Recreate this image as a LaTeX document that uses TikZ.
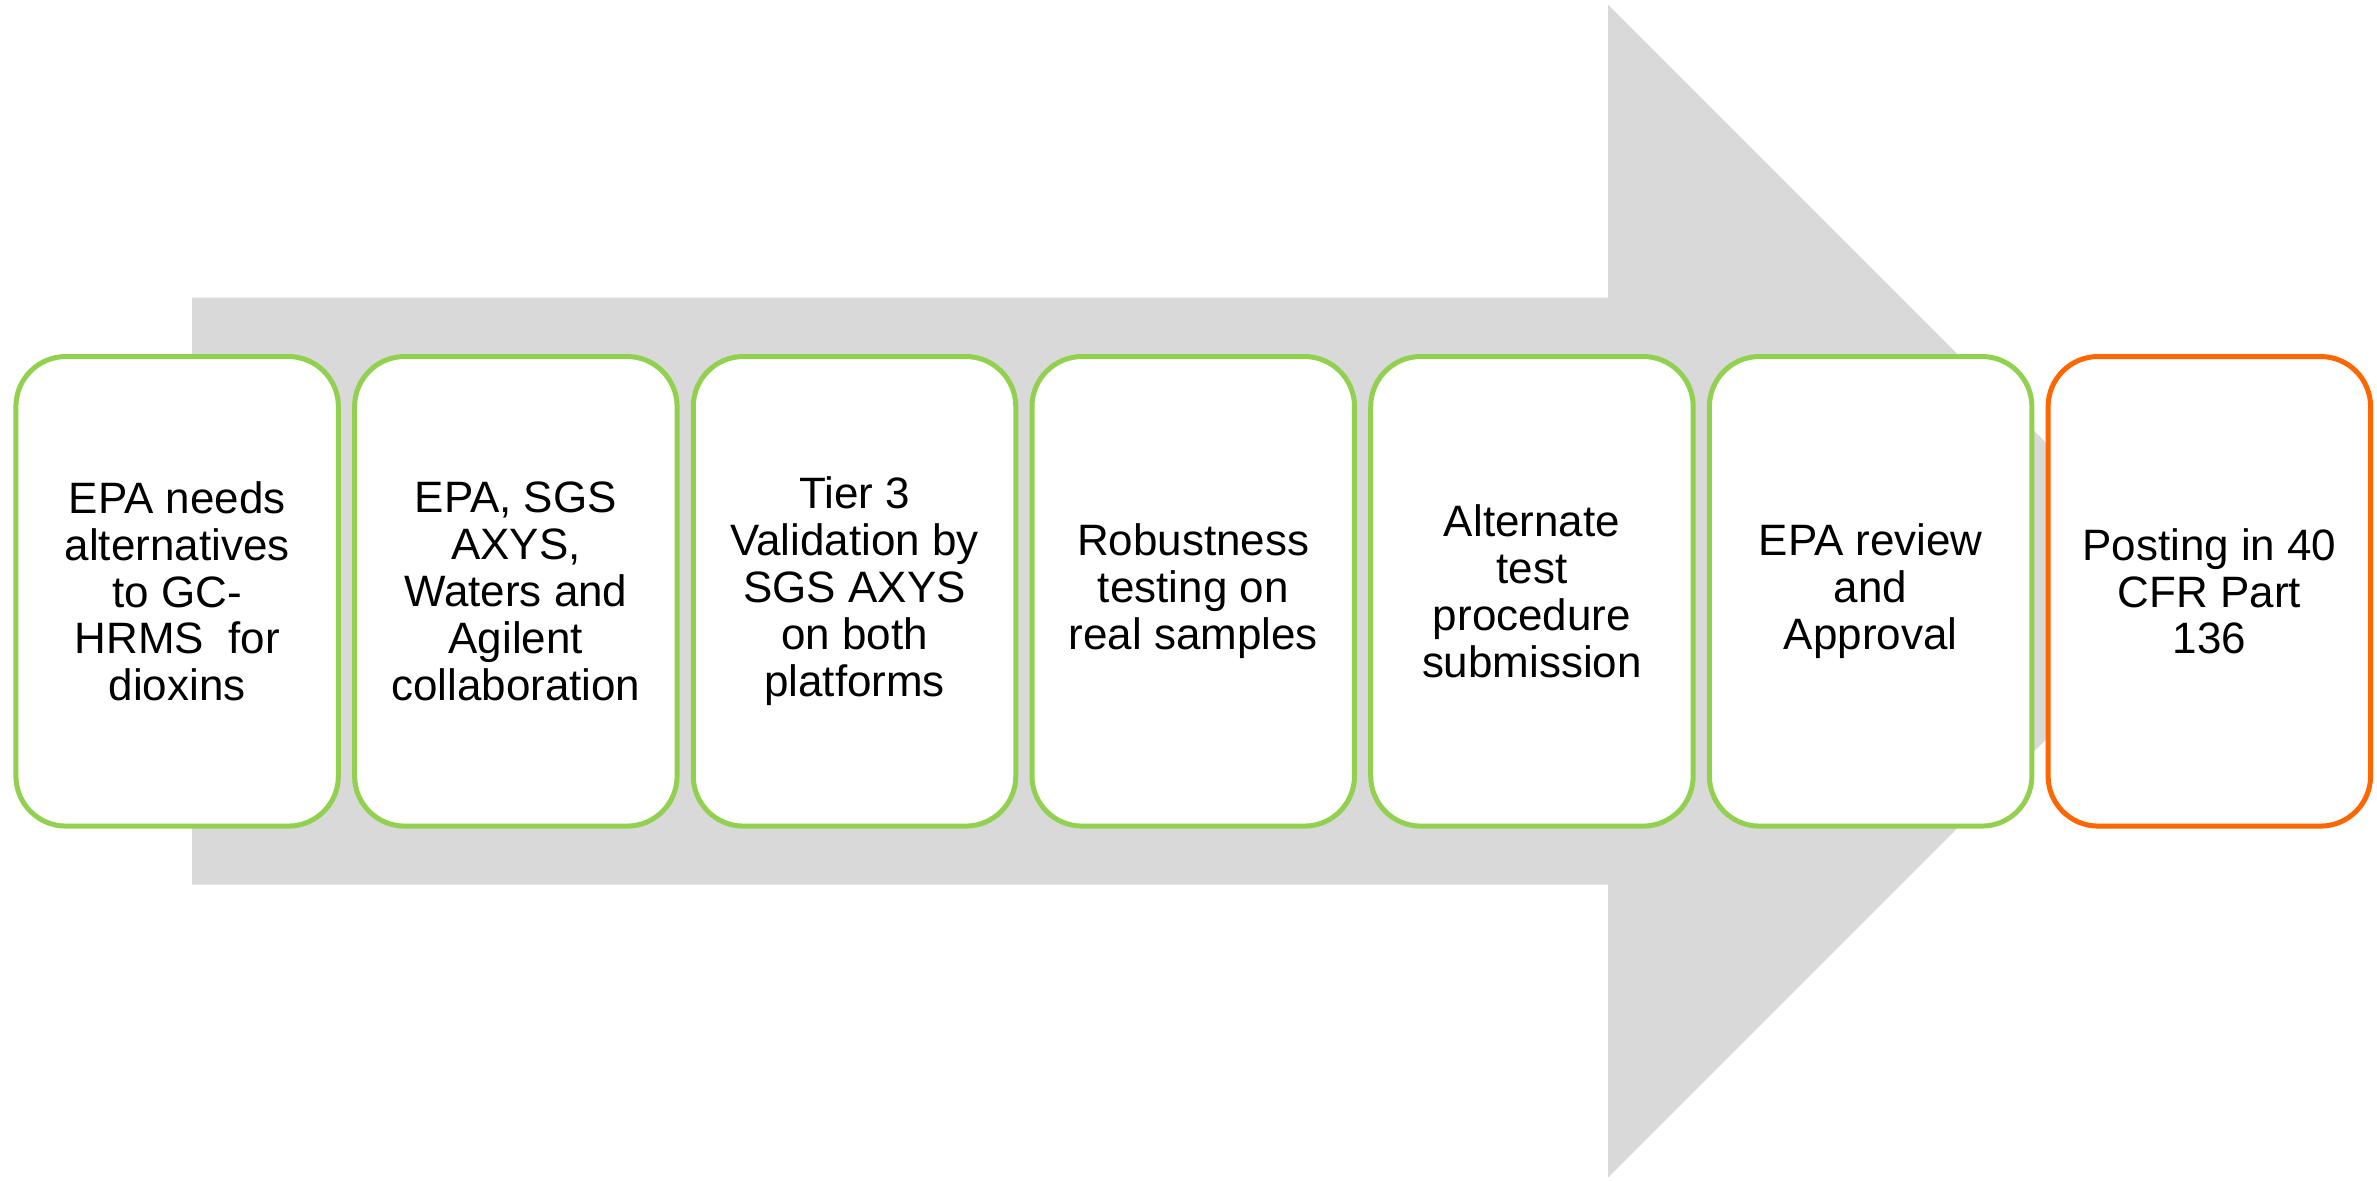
\documentclass[tikz,border=0pt]{standalone}
\usepackage{fontspec}
\setmainfont{Liberation Sans}
\definecolor{stepgreen}{HTML}{92D050}
\definecolor{steporange}{HTML}{FF6600}
\definecolor{arrowgray}{HTML}{D9D9D9}
\tikzset{
  stepbox/.style={draw=stepgreen, fill=white, line width=0.05cm, rounded corners=0.5cm,
    minimum width=3.223cm, minimum height=4.693cm, inner sep=0pt, align=center,
    font=\fontsize{12.5pt}{13.35pt}\selectfont},
  finalbox/.style={stepbox, draw=steporange},
  bigarrow/.style={fill=arrowgray, draw=none}
}
\begin{document}
\begin{tikzpicture}[x=0.01cm, y=-0.01cm]
\useasboundingbox (0,0) rectangle (2377,1181);
\fill[bigarrow] (192,297.7) -- (1608,297.7) -- (1608,4.7) -- (2194.5,591.2) -- (1608,1177.7) -- (1608,884.7) -- (192,884.7) -- cycle;
\node[stepbox] (b1) at (177.15,591.3) {EPA needs\\alternatives\\to GC-\\HRMS\ \ for\\dioxins};
\node[stepbox] (b2) at (515.85,591.3) {EPA, SGS\\AXYS,\\Waters and\\Agilent\\collaboration};
\node[stepbox] (b3) at (854.55,591.3) {Tier 3\\Validation by\\SGS AXYS\\on both\\platforms};
\node[stepbox] (b4) at (1193.25,591.3) {Robustness\\testing on\\real samples};
\node[stepbox] (b5) at (1531.95,591.3) {Alternate\\test\\procedure\\submission};
\node[stepbox] (b6) at (1870.65,591.3) {EPA review\\and\\Approval};
\node[finalbox] (b7) at (2209.35,591.3) {Posting in 40\\CFR Part\\136};
\end{tikzpicture}
\end{document}
